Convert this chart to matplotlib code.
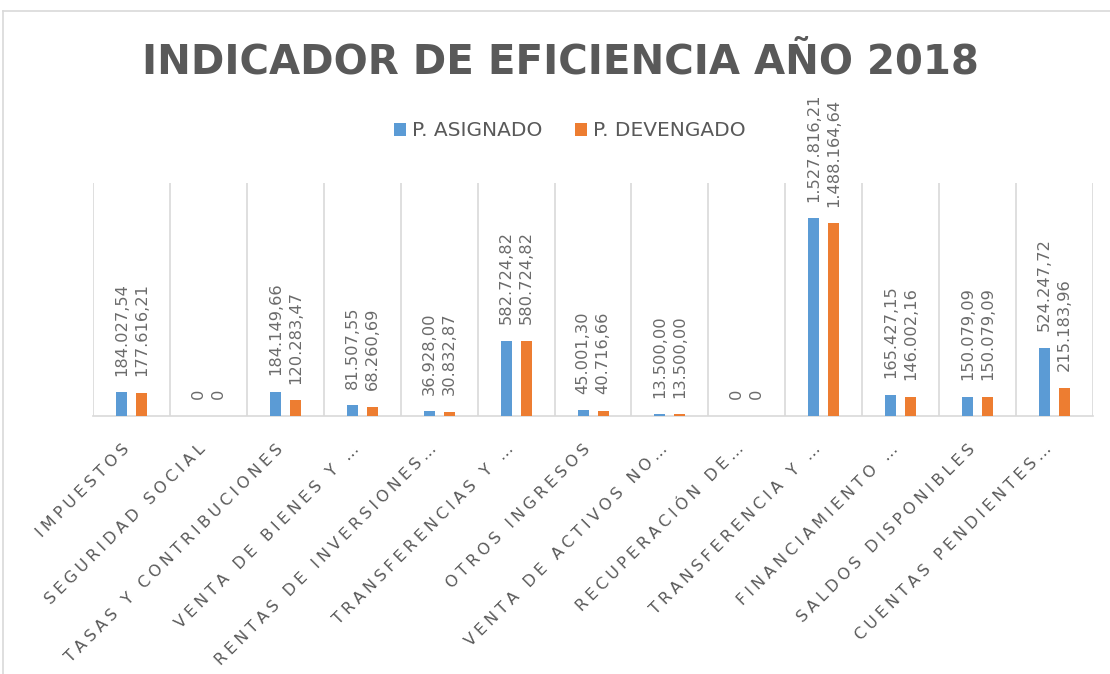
import numpy as np
import matplotlib.pyplot as plt
import matplotlib.transforms as mtransforms
from matplotlib.lines import Line2D

# Data
categorias = [
    "IMPUESTOS", "SEGURIDAD SOCIAL", "TASAS Y CONTRIBUCIONES",
    "VENTA DE BIENES Y …", "RENTAS DE INVERSIONES…", "TRANSFERENCIAS Y …",
    "OTROS INGRESOS", "VENTA DE ACTIVOS NO…", "RECUPERACIÓN DE…",
    "TRANSFERENCIA Y …", "FINANCIAMIENTO …", "SALDOS DISPONIBLES",
    "CUENTAS PENDIENTES…",
]
asignado = [184027.54, 0, 184149.66, 81507.55, 36928.00, 582724.82, 45001.30,
            13500.00, 0, 1527816.21, 165427.15, 150079.09, 524247.72]
devengado = [177616.21, 0, 120283.47, 68260.69, 30832.87, 580724.82, 40716.66,
             13500.00, 0, 1488164.64, 146002.16, 150079.09, 215183.96]

AZUL = '#5B9BD5'
NARANJA = '#ED7D31'
GRIS = '#595959'
GRID = '#D9D9D9'


def fmt(v):
    # spanish number format: 1.527.816,21
    if v == 0:
        return "0"
    s = f"{v:,.2f}"
    return s.replace(",", "X").replace(".", ",").replace("X", ".")


def espaciado(txt):
    # imitate Excel character spacing (four-per-em space between letters)
    return "\u2005".join(list(txt))


fig = plt.figure(figsize=(11.1, 6.74), dpi=100)
ax = fig.add_axes([93 / 1110, 258 / 674, 1000 / 1110, 233 / 674])

x = np.arange(len(categorias))
w = 0.143
off = 0.13
b1 = ax.bar(x - off, asignado, w, color=AZUL, label='P. ASIGNADO', zorder=3)
b2 = ax.bar(x + off, devengado, w, color=NARANJA, label='P. DEVENGADO', zorder=3)

for bars, vals in [(b1, asignado), (b2, devengado)]:
    for bar, v in zip(bars, vals):
        ax.annotate(fmt(v), (bar.get_x() + bar.get_width() / 2, bar.get_height()),
                    xytext=(0, 12), textcoords='offset points', rotation=90,
                    ha='center', va='bottom', fontsize=11.7, color='#6b6b6b',
                    annotation_clip=False)

ax.set_xlim(-0.5, len(categorias) - 0.5)
ax.set_ylim(0, 1800000)
ax.set_yticks([])
ax.set_xticks(x)
ax.set_xticklabels([espaciado(c) for c in categorias], rotation=45, ha='right',
                   rotation_mode='anchor', va='center', fontsize=11.5, color=GRIS)
ax.tick_params(axis='x', which='major', length=0, pad=22)
# nudge labels a bit to the left, like Excel
shift = mtransforms.ScaledTranslation(-5 / 100, 0, fig.dpi_scale_trans)
for lbl in ax.get_xticklabels():
    lbl.set_transform(lbl.get_transform() + shift)
ax.set_xticks(np.arange(-0.5, len(categorias), 1), minor=True)
ax.tick_params(axis='x', which='minor', length=0)
ax.grid(True, which='minor', axis='x', color=GRID, linewidth=1.2, zorder=0)
for s in ['top', 'left', 'right']:
    ax.spines[s].set_visible(False)
ax.spines['bottom'].set_color(GRID)
ax.spines['bottom'].set_linewidth(1.2)

fig.text(0.5049, 1 - 62 / 674, "INDICADOR DE EFICIENCIA AÑO 2018", ha='center',
         va='center', fontsize=29, fontweight='bold', color=GRIS)

fig.legend(handles=[b1, b2], loc='center', bbox_to_anchor=(570 / 1110, 1 - 131 / 674),
           ncol=2, frameon=False, fontsize=14.5, labelcolor=GRIS,
           handlelength=0.6, handleheight=0.6, handletextpad=0.3, columnspacing=1.6)

# chart area border
fig.add_artist(Line2D([3 / 1110, 1.0], [1 - 11 / 674, 1 - 11 / 674], color=GRID, lw=1.2))
fig.add_artist(Line2D([3 / 1110, 3 / 1110], [0, 1 - 11 / 674], color=GRID, lw=1.2))

fig.savefig('out.png', dpi=100)
